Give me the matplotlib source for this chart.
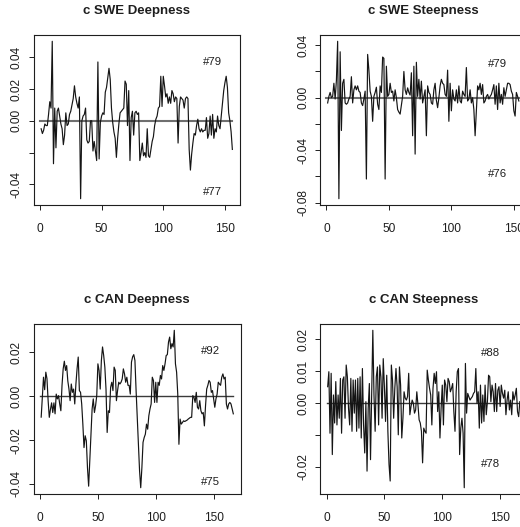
import matplotlib
matplotlib.use("Agg")
import matplotlib.pyplot as plt
import numpy as np

plt.rcParams['font.family'] = ['Liberation Sans', 'DejaVu Sans']

# ---- series -------------------------------------------------------------
swe_deep = [
    -0.005, -0.008, -0.006, -0.002, -0.003, -0.003, 0.004, 0.012, 0.008, 0.050,
    -0.027, 0.008, -0.017, 0.006, 0.008, 0.003, -0.002, -0.005, -0.015, -0.009,
    0.005, -0.003, -0.002, 0.004, 0.006, 0.010, 0.014, 0.022, 0.015, 0.011,
    0.008, 0.015, -0.049, 0.000, 0.003, 0.004, 0.008, -0.012, -0.014, -0.013,
    0.000, 0.000, -0.019, -0.013, -0.019, -0.025, 0.037, -0.024, -0.001, 0.003,
    0.005, 0.004, 0.018, 0.021, 0.027, 0.033, 0.026, 0.008, -0.001, -0.007,
    -0.011, -0.023, -0.011, -0.002, 0.005, 0.006, 0.007, 0.008, 0.025, 0.023,
    -0.003, 0.019, -0.025, 0.002, 0.006, -0.009, 0.005, 0.006, 0.004, 0.005,
    -0.025, -0.020, -0.014, -0.022, -0.020, -0.023, -0.005, -0.022, -0.023, -0.018,
    -0.013, -0.010, -0.003, 0.001, 0.003, 0.008, 0.009, 0.028, 0.009, 0.028,
    0.022, 0.015, 0.017, 0.011, 0.015, 0.011, 0.019, 0.017, 0.012, 0.015,
    0.014, -0.014, 0.009, 0.015, 0.014, 0.013, 0.008, 0.014, 0.015, 0.014,
    -0.018, -0.031, -0.021, -0.014, -0.008, -0.009, -0.003, 0.001, -0.005, -0.007,
    -0.005, -0.007, -0.006, -0.006, 0.002, -0.011, -0.008, 0.003, -0.009, 0.004,
    -0.011, -0.005, -0.007, 0.003, -0.003, -0.005, 0.003, 0.011, 0.019, 0.024,
    0.028, 0.021, 0.005, 0.000, -0.007, -0.018,
]

swe_steep = [
    -0.004, 0.001, 0.004, 0.000, 0.001, 0.011, -0.001, 0.013, 0.043, -0.077,
    0.035, -0.025, 0.011, 0.014, -0.004, -0.005, -0.004, -0.001, 0.001, 0.016,
    -0.004, 0.006, 0.009, 0.006, 0.009, 0.005, 0.004, -0.004, -0.006, -0.001,
    0.005, -0.062, 0.033, 0.021, 0.005, 0.001, -0.018, 0.001, 0.004, 0.008,
    -0.005, -0.009, 0.009, 0.004, 0.031, 0.030, -0.062, 0.024, 0.001, 0.0025,
    0.011, 0.004, 0.005, -0.0025, 0.006, 0.000, -0.009, -0.011, -0.0125, -0.006,
    0.001, 0.020, 0.006, 0.0025, 0.0075, 0.004, 0.002, 0.019, -0.029, 0.024,
    -0.043, 0.027, 0.001, 0.014, -0.001, 0.0126, -0.004, 0.001, 0.006, -0.029,
    0.009, 0.004, 0.0025, -0.004, -0.005, 0.006, 0.011, -0.002, -0.0076, 0.000,
    0.009, 0.014, 0.011, 0.010, 0.0025, 0.001, 0.021, -0.018, 0.011, -0.010,
    0.006, -0.001, -0.0025, 0.006, -0.004, 0.009, -0.0025, -0.004, 0.005, 0.0025,
    0.001, 0.023, -0.0025, -0.001, 0.006, -0.004, 0.000, -0.009, -0.029, -0.010,
    0.009, 0.006, 0.011, 0.0025, 0.010, -0.004, -0.0025, 0.001, 0.0025, -0.001,
    0.001, 0.0025, 0.006, 0.010, -0.005, 0.009, -0.009, 0.011, -0.004, 0.0025,
    -0.005, 0.0076, 0.001, 0.006, 0.011, 0.011, 0.010, 0.005, 0.0025, -0.010,
    -0.014, 0.004, 0.001, -0.0025,
]

can_deep = [
    -0.0095, -0.0005, 0.0087, 0.003, 0.011, 0.008, -0.002, -0.0096, -0.006, -0.003,
    -0.0074, -0.003, -0.008, 0.001, -0.0012, 0.0003, -0.0035, -0.0066, 0.005, 0.0125,
    0.016, 0.0118, 0.014, 0.007, 0.0033, -0.002, 0.0056, 0.0018, 0.0033, -0.0035,
    0.0056, 0.0125, 0.0179, 0.0026, 0.0018, -0.0035, -0.0127, -0.0234, -0.018, -0.0203,
    -0.0326, -0.041, -0.0295, -0.0173, -0.0058, -0.0012, -0.0074, -0.0043, 0.0003, 0.0148,
    0.0118, 0.0033, 0.0163, 0.0225, 0.0186, 0.0133, 0.0033, -0.0165, -0.0066, -0.0074,
    0.0041, 0.0064, 0.0026, 0.0133, 0.0118, -0.002, 0.0026, 0.0064, 0.0056, 0.0064,
    0.0079, 0.0125, 0.0102, 0.0064, 0.0087, 0.005, 0.005, 0.001, 0.0156, 0.018,
    0.019, 0.0163, 0.0026, -0.0096, -0.0219, -0.034, -0.0417, -0.0326, -0.021, -0.0188,
    -0.0173, -0.0127, -0.015, -0.0089, -0.0058, -0.0035, 0.0087, 0.0072, -0.0028, 0.0064,
    -0.0028, 0.0064, 0.005, 0.0095, 0.0079, 0.014, 0.0118, 0.0148, 0.0186, 0.019,
    0.0247, 0.027, 0.0217, 0.024, 0.0225, 0.0301, 0.0148, 0.011, 0.001, -0.0219,
    -0.0104, -0.0127, -0.012, -0.0112, -0.0115, -0.0112, -0.0109, -0.0104, -0.010, -0.0096,
    -0.0096, 0.0003, -0.0005, -0.0028, 0.0018, -0.005, -0.0058, -0.002, -0.0066, -0.008,
    -0.0074, -0.0135, -0.0043, 0.0033, 0.005, 0.0072, 0.0064, 0.0018, 0.0026, -0.0012,
    -0.005, -0.0012, 0.001, 0.0064, 0.0056, 0.005, 0.0087, 0.0102, 0.0079, 0.0087,
    -0.0035, -0.0058, -0.0035, -0.0028, -0.0035, -0.0058, -0.008,
]

can_steep = [
    0.0051, 0.0098, -0.0095, 0.0093, -0.0162, 0.0025, -0.0063, 0.0067, -0.0069, 0.0025,
    -0.0048, 0.0077, -0.0095, 0.0072, 0.0082, -0.0048, 0.0119, 0.0082, -0.0017, -0.0069,
    0.0077, -0.0089, 0.0072, -0.0032, 0.0072, -0.0089, 0.0077, -0.0079, 0.0082, -0.011,
    0.0108, -0.0069, -0.0157, 0.0004, -0.0214, -0.0017, 0.0061, -0.0178, 0.0035, 0.0228,
    0.0025, -0.0089, 0.0082, 0.0113, -0.0069, 0.0119, 0.0082, -0.0048, 0.0139, 0.0051,
    -0.0058, 0.0087, -0.0089, -0.0193, -0.0245, 0.0119, 0.0072, -0.0048, 0.0046, 0.0108,
    0.0051, -0.010, 0.0113, 0.0056, -0.011, -0.0048, 0.0035, 0.0015, 0.0009, 0.002,
    0.0093, -0.0037, -0.0011, 0.0009, -0.0001, -0.0032, -0.0022, 0.0035, -0.0006, -0.0053,
    -0.0063, -0.0089, -0.0188, -0.0079, -0.0089, -0.0095, 0.0103, 0.0072, 0.0046, 0.0025,
    -0.0069, 0.0046, 0.0093, 0.0061, 0.0098, -0.0027, 0.0035, -0.011, -0.0017, 0.0056,
    -0.0069, 0.0072, 0.0056, 0.0004, 0.0077, 0.0067, 0.0035, 0.0046, 0.0061, -0.0027,
    -0.0089, 0.0035, 0.0098, 0.0108, -0.0162, -0.0079, -0.0048, -0.0095, -0.0266, 0.0124,
    -0.0032, 0.003, 0.002, 0.0009, 0.0015, 0.002, 0.003, 0.0035, 0.0108, -0.0001,
    0.0035, -0.0079, 0.0056, -0.0063, 0.0025, -0.0058, 0.0056, -0.0037, 0.0004, 0.0087,
    0.0082, 0.0004, 0.0056, 0.0035, -0.0027, 0.0061, -0.0027, 0.004, 0.0051, -0.0011,
    0.0056, 0.003, 0.0015, 0.004, -0.0037, 0.0009, 0.0035, -0.0022, 0.0009, -0.0037,
    0.0035, 0.0009, 0.0025, 0.0046, -0.0027, -0.0043, 0.0004,
]

titles = ["c SWE Deepness", "c SWE Steepness", "c CAN Deepness", "c CAN Steepness"]
x_ticks = [0, 50, 100, 150]

swe_deep_yticks = [-0.04, -0.02, 0.00, 0.02, 0.04]
swe_deep_ylabels = ["-0.04", "", "0.00", "0.02", "0.04"]
swe_steep_yticks = [-0.08, -0.06, -0.04, -0.02, 0.00, 0.02, 0.04]
swe_steep_ylabels = ["-0.08", "", "-0.04", "", "0.00", "", "0.04"]
can_deep_yticks = [-0.04, -0.02, 0.00, 0.02]
can_deep_ylabels = ["-0.04", "-0.02", "0.00", "0.02"]
can_steep_yticks = [-0.02, -0.01, 0.00, 0.01, 0.02]
can_steep_ylabels = ["-0.02", "", "0.00", "0.01", "0.02"]

# annotation text with its (x, y) in data units: upper tag, lower tag
swe_deep_tags = [("#79", 140, 0.037), ("#77", 140, -0.045)]
swe_steep_tags = [("#79", 137, 0.026), ("#76", 137, -0.058)]
can_deep_tags = [("#92", 147, 0.0207), ("#75", 147, -0.039)]
can_steep_tags = [("#88", 142, 0.0158), ("#78", 142, -0.0193)]

# ---- figure -------------------------------------------------------------
W, H = 520, 527
fig = plt.figure(figsize=(W / 100, H / 100), dpi=100)
fig.patch.set_facecolor("white")


def box(left, top, width, height):
    return [left / W, (H - top - height) / H, width / W, height / H]


panels = [
    (swe_deep, swe_deep_yticks, swe_deep_ylabels, swe_deep_tags, box(33.5, 35, 206.5, 170), "#6f6f6f", 1.5),
    (swe_steep, swe_steep_yticks, swe_steep_ylabels, swe_steep_tags, box(320, 35, 206.5, 170), "#6f6f6f", 1.5),
    (can_deep, can_deep_yticks, can_deep_ylabels, can_deep_tags, box(33.5, 324, 207.5, 170), "#3a3a3a", 1.0),
    (can_steep, can_steep_yticks, can_steep_ylabels, can_steep_tags, box(320, 324, 207.5, 170), "#3a3a3a", 1.0),
]

ink = "#1e1e1e"

for (vals, yt, yl, tags, rect, zcol, zlw), title in zip(panels, titles):
    ax = fig.add_axes(rect)
    v = np.asarray(vals)
    n = len(v)
    x = np.arange(1, n + 1)

    # R-style 4% padding around the data range
    xr = (n - 1) * 0.04
    ax.set_xlim(1 - xr, n + xr)
    lo, hi = v.min(), v.max()
    yr = (hi - lo) * 0.04
    ax.set_ylim(lo - yr, hi + yr)

    ax.plot([0, n], [0, 0], color=zcol, lw=zlw, zorder=2)
    ax.plot(x, v, color="#151515", lw=0.85, zorder=3)

    for label, tx, ty in tags:
        ax.text(tx, ty, label, ha="center", va="center", fontsize=8.2, color=ink)

    ax.set_xticks(x_ticks)
    ax.set_xticklabels([str(t) for t in x_ticks])
    ax.set_yticks(yt)
    ax.set_yticklabels(yl, rotation=90, va="center")

    ax.tick_params(axis="both", direction="out", length=4.7 * 72 / 100,
                   width=0.7, colors=ink, labelsize=8.6)
    ax.tick_params(axis="x", pad=9.5)
    ax.tick_params(axis="y", pad=4.5)
    for sp in ax.spines.values():
        sp.set_color(ink)
        sp.set_linewidth(0.8)

    ax.set_title(title, fontsize=9.5, fontweight="bold", pad=15.0, color=ink)

fig.savefig("out.png", dpi=100, facecolor="white")
